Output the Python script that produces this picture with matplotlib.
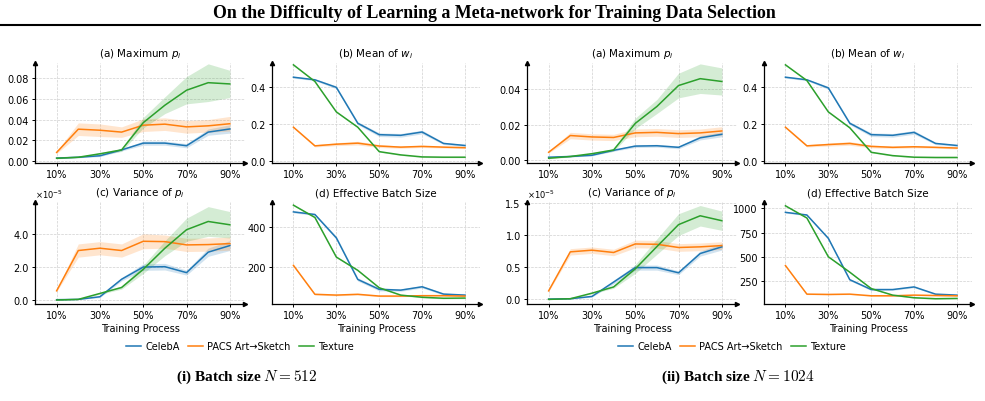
import matplotlib
matplotlib.use("Agg")
import matplotlib.pyplot as plt
from matplotlib import ticker
from matplotlib.lines import Line2D
import numpy as np

# training progress (%)
progress = [10, 20, 30, 40, 50, 60, 70, 80, 90]
datasets = ["CelebA", "PACS Art→Sketch", "Texture"]
colors = ["#1f77b4", "#ff7f0e", "#2ca02c"]

# ---- batch size N = 512 ----
max_p_512 = {
    "CelebA": [0.0032, 0.004, 0.0054, 0.011, 0.0175, 0.0175, 0.015, 0.028, 0.031],
    "PACS Art→Sketch": [0.0086, 0.0308, 0.0298, 0.028, 0.0346, 0.0356, 0.033, 0.034, 0.036],
    "Texture": [0.003, 0.004, 0.0073, 0.011, 0.037, 0.0537, 0.068, 0.0752, 0.074],
}
max_p_512_sd = {
    "CelebA": [0.0005, 0.0005, 0.0008, 0.001, 0.002, 0.002, 0.002, 0.003, 0.004],
    "PACS Art→Sketch": [0.001, 0.006, 0.006, 0.005, 0.006, 0.006, 0.006, 0.006, 0.007],
    "Texture": [0.0005, 0.0005, 0.001, 0.0015, 0.005, 0.008, 0.013, 0.018, 0.013],
}
mean_w_512 = {
    "CelebA": [0.453, 0.439, 0.398, 0.2035, 0.1416, 0.138, 0.156, 0.094, 0.083],
    "PACS Art→Sketch": [0.182, 0.081, 0.09, 0.0956, 0.08, 0.074, 0.078, 0.074, 0.071],
    "Texture": [0.52, 0.43, 0.265, 0.182, 0.0496, 0.032, 0.021, 0.0195, 0.0195],
}
mean_w_512_sd = {
    "CelebA": [0.005, 0.005, 0.008, 0.008, 0.01, 0.01, 0.01, 0.006, 0.005],
    "PACS Art→Sketch": [0.004, 0.006, 0.008, 0.01, 0.008, 0.006, 0.006, 0.005, 0.005],
    "Texture": [0.003, 0.003, 0.003, 0.003, 0.003, 0.003, 0.003, 0.003, 0.003],
}
var_p_512 = {
    "CelebA": [0.02e-5, 0.04e-5, 0.2e-5, 1.26e-5, 2.0e-5, 2.02e-5, 1.66e-5, 2.9e-5, 3.3e-5],
    "PACS Art→Sketch": [0.56e-5, 3.0e-5, 3.14e-5, 3.0e-5, 3.56e-5, 3.54e-5, 3.34e-5, 3.36e-5, 3.42e-5],
    "Texture": [0.0, 0.04e-5, 0.4e-5, 0.76e-5, 1.86e-5, 3.14e-5, 4.26e-5, 4.76e-5, 4.56e-5],
}
var_p_512_sd = {
    "CelebA": [0.01e-5, 0.01e-5, 0.05e-5, 0.1e-5, 0.2e-5, 0.2e-5, 0.15e-5, 0.25e-5, 0.3e-5],
    "PACS Art→Sketch": [0.05e-5, 0.4e-5, 0.4e-5, 0.4e-5, 0.45e-5, 0.4e-5, 0.4e-5, 0.4e-5, 0.4e-5],
    "Texture": [0.01e-5, 0.01e-5, 0.05e-5, 0.1e-5, 0.25e-5, 0.45e-5, 0.7e-5, 0.9e-5, 0.8e-5],
}
ebs_512 = {
    "CelebA": [478, 465, 347, 137, 87, 83, 100, 63, 58],
    "PACS Art→Sketch": [208, 62, 58, 62, 53, 53, 55, 55, 53],
    "Texture": [512, 450, 250, 183, 95, 58, 47, 42, 43],
}
ebs_512_sd = {
    "CelebA": [5, 5, 8, 8, 8, 6, 6, 5, 5],
    "PACS Art→Sketch": [4, 4, 4, 4, 3, 3, 3, 3, 3],
    "Texture": [3, 3, 3, 3, 3, 3, 3, 3, 3],
}

# ---- batch size N = 1024 ----
max_p_1024 = {
    "CelebA": [0.0015, 0.0019, 0.0026, 0.0054, 0.0078, 0.008, 0.0071, 0.0125, 0.0145],
    "PACS Art→Sketch": [0.0043, 0.0138, 0.013, 0.0127, 0.0153, 0.0156, 0.0149, 0.0153, 0.0164],
    "Texture": [0.0009, 0.0019, 0.0035, 0.0056, 0.0207, 0.0303, 0.0422, 0.0461, 0.0445],
}
max_p_1024_sd = {
    "CelebA": [0.0003, 0.0003, 0.0004, 0.0005, 0.0008, 0.0008, 0.0008, 0.0012, 0.0014],
    "PACS Art→Sketch": [0.0005, 0.0018, 0.0018, 0.0018, 0.0022, 0.0022, 0.0022, 0.0022, 0.0024],
    "Texture": [0.0003, 0.0003, 0.0005, 0.0008, 0.003, 0.004, 0.007, 0.0084, 0.0077],
}
mean_w_1024 = {
    "CelebA": [0.453, 0.439, 0.395, 0.2035, 0.1416, 0.138, 0.154, 0.094, 0.083],
    "PACS Art→Sketch": [0.182, 0.081, 0.088, 0.094, 0.078, 0.073, 0.076, 0.073, 0.069],
    "Texture": [0.52, 0.435, 0.265, 0.179, 0.046, 0.028, 0.0195, 0.018, 0.018],
}
mean_w_1024_sd = {
    "CelebA": [0.005, 0.005, 0.008, 0.008, 0.01, 0.01, 0.01, 0.006, 0.005],
    "PACS Art→Sketch": [0.004, 0.006, 0.008, 0.01, 0.008, 0.006, 0.006, 0.005, 0.005],
    "Texture": [0.003, 0.003, 0.003, 0.003, 0.003, 0.003, 0.003, 0.003, 0.003],
}
var_p_1024 = {
    "CelebA": [0.005e-5, 0.01e-5, 0.046e-5, 0.27e-5, 0.496e-5, 0.496e-5, 0.415e-5, 0.716e-5, 0.82e-5],
    "PACS Art→Sketch": [0.133e-5, 0.742e-5, 0.768e-5, 0.732e-5, 0.865e-5, 0.86e-5, 0.81e-5, 0.82e-5, 0.84e-5],
    "Texture": [0.0, 0.01e-5, 0.097e-5, 0.194e-5, 0.476e-5, 0.824e-5, 1.167e-5, 1.305e-5, 1.228e-5],
}
var_p_1024_sd = {
    "CelebA": [0.003e-5, 0.003e-5, 0.01e-5, 0.03e-5, 0.04e-5, 0.04e-5, 0.03e-5, 0.04e-5, 0.05e-5],
    "PACS Art→Sketch": [0.01e-5, 0.05e-5, 0.05e-5, 0.05e-5, 0.06e-5, 0.06e-5, 0.06e-5, 0.06e-5, 0.06e-5],
    "Texture": [0.003e-5, 0.003e-5, 0.01e-5, 0.02e-5, 0.07e-5, 0.12e-5, 0.17e-5, 0.16e-5, 0.15e-5],
}
ebs_1024 = {
    "CelebA": [957, 930, 691, 267, 166, 166, 193, 119, 109],
    "PACS Art→Sketch": [412, 119, 116, 119, 102, 102, 109, 105, 102],
    "Texture": [1024, 899, 502, 344, 176, 109, 82, 72, 75],
}
ebs_1024_sd = {
    "CelebA": [8, 8, 10, 10, 10, 8, 8, 6, 6],
    "PACS Art→Sketch": [5, 5, 5, 5, 5, 5, 5, 5, 5],
    "Texture": [5, 5, 5, 5, 5, 5, 5, 5, 5],
}

xticks = [10, 30, 50, 70, 90]
xticklabels = ["10%", "30%", "50%", "70%", "90%"]

W, H = 985, 402


class OneDecimalSci(ticker.ScalarFormatter):
    def _set_format(self):
        self.format = "%1.1f"


def px_axes(x0, x1, ytop, ybot):
    return fig.add_axes([x0 / W, 1 - ybot / H, (x1 - x0) / W, (ybot - ytop) / H])


def draw_panel(ax, means, sds, title, ylim, yticks, fmt, xlabel=False):
    for name, c in zip(datasets, colors):
        m = np.array(means[name])
        s = np.array(sds[name])
        ax.fill_between(progress, m - s, m + s, color=c, alpha=0.2, lw=0)
        ax.plot(progress, m, color=c, lw=1.1, label=name)
    ax.set_xlim(0, 97)
    ax.set_ylim(*ylim)
    ax.set_xticks(xticks)
    ax.set_xticklabels(xticklabels)
    ax.set_yticks(yticks)
    if fmt == "sci":
        f = OneDecimalSci(useMathText=True)
        f.set_powerlimits((0, 0))
        ax.yaxis.set_major_formatter(f)
        ax.yaxis.get_offset_text().set_fontsize(6)
    else:
        ax.yaxis.set_major_formatter(ticker.FormatStrFormatter(fmt))
    ax.tick_params(labelsize=7, length=2.5, width=0.7, pad=2)
    ax.grid(True, ls="--", lw=0.5, color="#d0d0d0")
    ax.set_axisbelow(True)
    for sp in ["top", "right"]:
        ax.spines[sp].set_visible(False)
    for sp in ["left", "bottom"]:
        ax.spines[sp].set_linewidth(0.9)
    ax.plot(1, 0, ">k", transform=ax.transAxes, clip_on=False, ms=3)
    ax.plot(0, 1, "^k", transform=ax.transAxes, clip_on=False, ms=3)
    ax.set_title(title, fontsize=7.5, pad=5)
    if xlabel:
        ax.set_xlabel("Training Process", fontsize=7, labelpad=2)


fig = plt.figure(figsize=(W / 100, H / 100), dpi=100)

groups = [
    (0, (max_p_512, max_p_512_sd), (mean_w_512, mean_w_512_sd),
     (var_p_512, var_p_512_sd), (ebs_512, ebs_512_sd),
     [(-0.0015, 0.094), (-0.012, 0.53), (-0.24e-5, 5.94e-5), (13, 528)],
     [[0, 0.02, 0.04, 0.06, 0.08], [0, 0.2, 0.4], [0, 2e-5, 4e-5], [200, 400]],
     ["%.2f", "%.1f", "sci", "%d"], 240, "(i) Batch size $N = 512$", 247),
    (492, (max_p_1024, max_p_1024_sd), (mean_w_1024, mean_w_1024_sd),
     (var_p_1024, var_p_1024_sd), (ebs_1024, ebs_1024_sd),
     [(-0.0018, 0.055), (-0.012, 0.53), (-0.072e-5, 1.52e-5), (18, 1063)],
     [[0, 0.02, 0.04], [0, 0.2, 0.4], [0, 0.5e-5, 1.0e-5, 1.5e-5], [250, 500, 750, 1000]],
     ["%.2f", "%.1f", "sci", "%d"], 732, "(ii) Batch size $N = 1024$", 738),
]

titles = [r"(a) Maximum $p_i$", r"(b) Mean of $w_i$",
          r"(c) Variance of $p_i$", "(d) Effective Batch Size"]

for off, pa, pb, pc, pd, ylims, yts, fmts, leg_x, caption, cap_x in groups:
    boxes = [(35, 245, 64, 164), (272, 480, 64, 164),
             (35, 245, 203, 305), (272, 480, 203, 305)]
    panels = [pa, pb, pc, pd]
    axes = []
    for k in range(4):
        x0, x1, yt, yb = boxes[k]
        ax = px_axes(x0 + off, x1 + off, yt, yb)
        draw_panel(ax, panels[k][0], panels[k][1], titles[k], ylims[k], yts[k],
                   fmts[k], xlabel=(k >= 2))
        axes.append(ax)
    h, l = axes[0].get_legend_handles_labels()
    fig.legend(h, l, loc="center", bbox_to_anchor=(leg_x / W, 1 - 347 / H),
               ncol=3, frameon=False, fontsize=7, handlelength=1.5,
               columnspacing=0.9, handletextpad=0.45)
    fig.text(cap_x / W, 1 - 377 / H, caption, ha="center", va="center",
             fontsize=11, fontweight="bold", family="Liberation Serif",
             math_fontfamily="cm")

fig.text(0.502, 1 - 13 / H,
         "On the Difficulty of Learning a Meta-network for Training Data Selection",
         ha="center", va="center", fontsize=12.9, fontweight="bold",
         family="Liberation Serif")
fig.add_artist(Line2D([0.0, 0.995], [1 - 26 / H, 1 - 26 / H], color="black", lw=1.5))

fig.savefig("out.png", dpi=100)
